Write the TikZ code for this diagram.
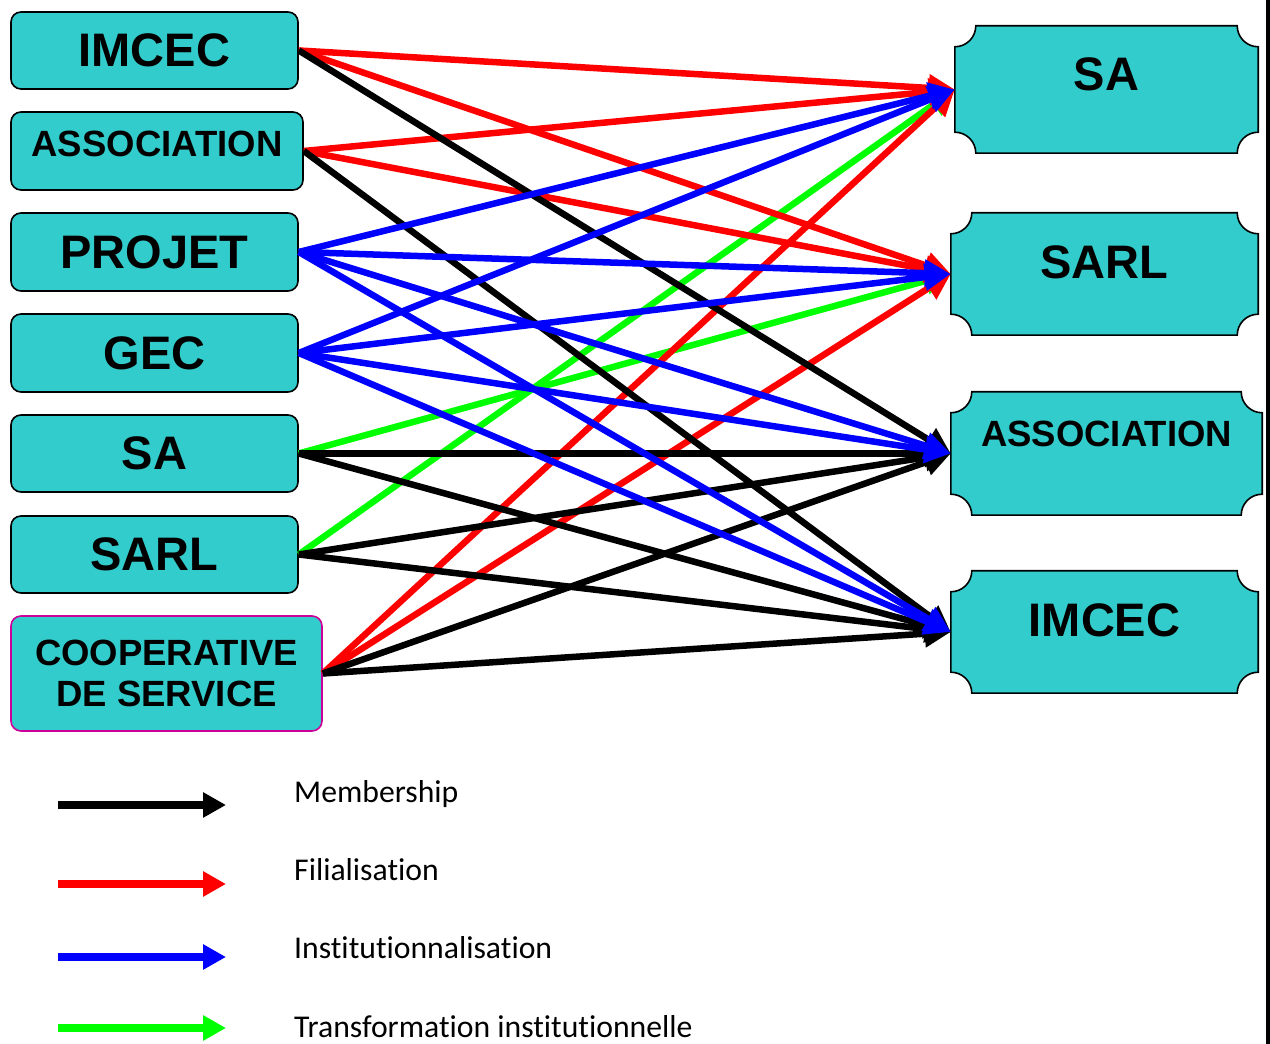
\documentclass[tikz,border=0pt]{standalone}
\usepackage{fontspec}
\setmainfont{Liberation Sans}
\newfontfamily\legendfont[Ligatures=NoCommon]{Carlito}
\usetikzlibrary{arrows.meta,backgrounds}
\definecolor{boxfill}{RGB}{51,204,204}
\definecolor{coopborder}{RGB}{204,0,153}
\begin{document}
\begin{tikzpicture}[x=1pt,y=1pt,
  srcbox/.style={draw=black,line width=1.6pt,fill=boxfill,rounded corners=10pt,
    inner sep=0pt,font=\bfseries\fontsize{47}{50}\selectfont},
  smalltext/.style={font=\bfseries\fontsize{36.5}{41}\selectfont},
  dstbox/.style={inner sep=0pt,font=\bfseries\fontsize{47}{50}\selectfont},
  plaqueline/.style={draw=black,line width=1.6pt,fill=boxfill},
  link/.style={line width=6.5pt,-{Triangle[length=26pt,width=26pt]}},
  keyarrow/.style={line width=8pt,-{Triangle[length=23pt,width=24pt]}},
  keytext/.style={anchor=base west,inner sep=0pt,font=\legendfont\fontsize{31.7}{36}\selectfont}
]
\useasboundingbox (0,0) rectangle (1270,1044);

% frame rule on the right edge
\fill[black] (1266,0) rectangle (1270,1044);

% source boxes
\node[srcbox,minimum width=287pt,minimum height=77pt] (L1) at (154.5,993.5) {IMCEC};
\node[srcbox,smalltext,minimum width=292pt,minimum height=78pt,text depth=14pt] (L2) at (157,893) {ASSOCIATION};
\node[srcbox,minimum width=287pt,minimum height=78pt] (L3) at (154.5,792) {PROJET};
\node[srcbox,minimum width=287pt,minimum height=78pt] (L4) at (154.5,691) {GEC};
\node[srcbox,minimum width=287pt,minimum height=77pt] (L5) at (154.5,590.5) {SA};
\node[srcbox,minimum width=287pt,minimum height=77pt] (L6) at (154.5,489.5) {SARL};
\node[srcbox,smalltext,draw=coopborder,minimum width=311pt,minimum height=115pt,align=center] (L7) at (166.5,370.5) {COOPERATIVE\\DE SERVICE};

% target boxes (plaque outline drawn behind the text)
\node[dstbox,minimum width=303pt,minimum height=127pt,text depth=30pt] (R1) at (1106.5,954.5) {SA};
\node[dstbox,minimum width=307pt,minimum height=122pt,text depth=24pt] (R2) at (1104.5,770) {SARL};
\node[dstbox,smalltext,minimum width=311pt,minimum height=123pt,text depth=40pt] (R3) at (1106.5,590.5) {ASSOCIATION};
\node[dstbox,minimum width=307pt,minimum height=122pt,text depth=24pt] (R4) at (1104.5,412) {IMCEC};

\begin{pgfonlayer}{background}
\foreach \n in {R1,R2,R3,R4}{
  \path[plaqueline]
    ([xshift=21pt]\n.north west) -- ([xshift=-21pt]\n.north east)
    arc[start angle=180,end angle=270,radius=21pt]
    -- ([yshift=21pt]\n.south east)
    arc[start angle=90,end angle=180,radius=21pt]
    -- ([xshift=21pt]\n.south west)
    arc[start angle=0,end angle=90,radius=21pt]
    -- ([yshift=-21pt]\n.north west)
    arc[start angle=270,end angle=360,radius=21pt]
    -- cycle;
}
\end{pgfonlayer}

% transformation institutionnelle
\draw[link,green] (L5.east) -- (R2.west);
\draw[link,green] (L6.east) -- (R1.west);
% filialisation
\draw[link,red] (L1.east) -- (R1.west);
\draw[link,red] (L1.east) -- (R2.west);
\draw[link,red] (L2.east) -- (R1.west);
\draw[link,red] (L2.east) -- (R2.west);
\draw[link,red] (L7.east) -- (R1.west);
\draw[link,red] (L7.east) -- (R2.west);
% membership
\draw[link,black] (L1.east) -- (R3.west);
\draw[link,black] (L2.east) -- (R4.west);
\draw[link,black] (L5.east) -- (R3.west);
\draw[link,black] (L5.east) -- (R4.west);
\draw[link,black] (L6.east) -- (R3.west);
\draw[link,black] (L6.east) -- (R4.west);
\draw[link,black] (L7.east) -- (R3.west);
\draw[link,black] (L7.east) -- (R4.west);
% institutionnalisation
\draw[link,blue] (L3.east) -- (R1.west);
\draw[link,blue] (L3.east) -- (R2.west);
\draw[link,blue] (L3.east) -- (R3.west);
\draw[link,blue] (L3.east) -- (R4.west);
\draw[link,blue] (L4.east) -- (R1.west);
\draw[link,blue] (L4.east) -- (R2.west);
\draw[link,blue] (L4.east) -- (R3.west);
\draw[link,blue] (L4.east) -- (R4.west);

% legend
\coordinate (k1a) at (58,239);  \coordinate (k1b) at (226,239);
\coordinate (k2a) at (58,160);  \coordinate (k2b) at (226,160);
\coordinate (k3a) at (58,87);   \coordinate (k3b) at (226,87);
\coordinate (k4a) at (58,16);   \coordinate (k4b) at (226,16);
\draw[keyarrow,black] (k1a) -- (k1b);
\draw[keyarrow,red]   (k2a) -- (k2b);
\draw[keyarrow,blue]  (k3a) -- (k3b);
\draw[keyarrow,green] (k4a) -- (k4b);
\node[keytext] (t1) at (294,241) {Membership};
\node[keytext] (t2) at (294,163) {Filialisation};
\node[keytext] (t3) at (294,85)  {Institutionnalisation};
\node[keytext] (t4) at (294,6)   {Transformation institutionnelle};
\end{tikzpicture}
\end{document}
